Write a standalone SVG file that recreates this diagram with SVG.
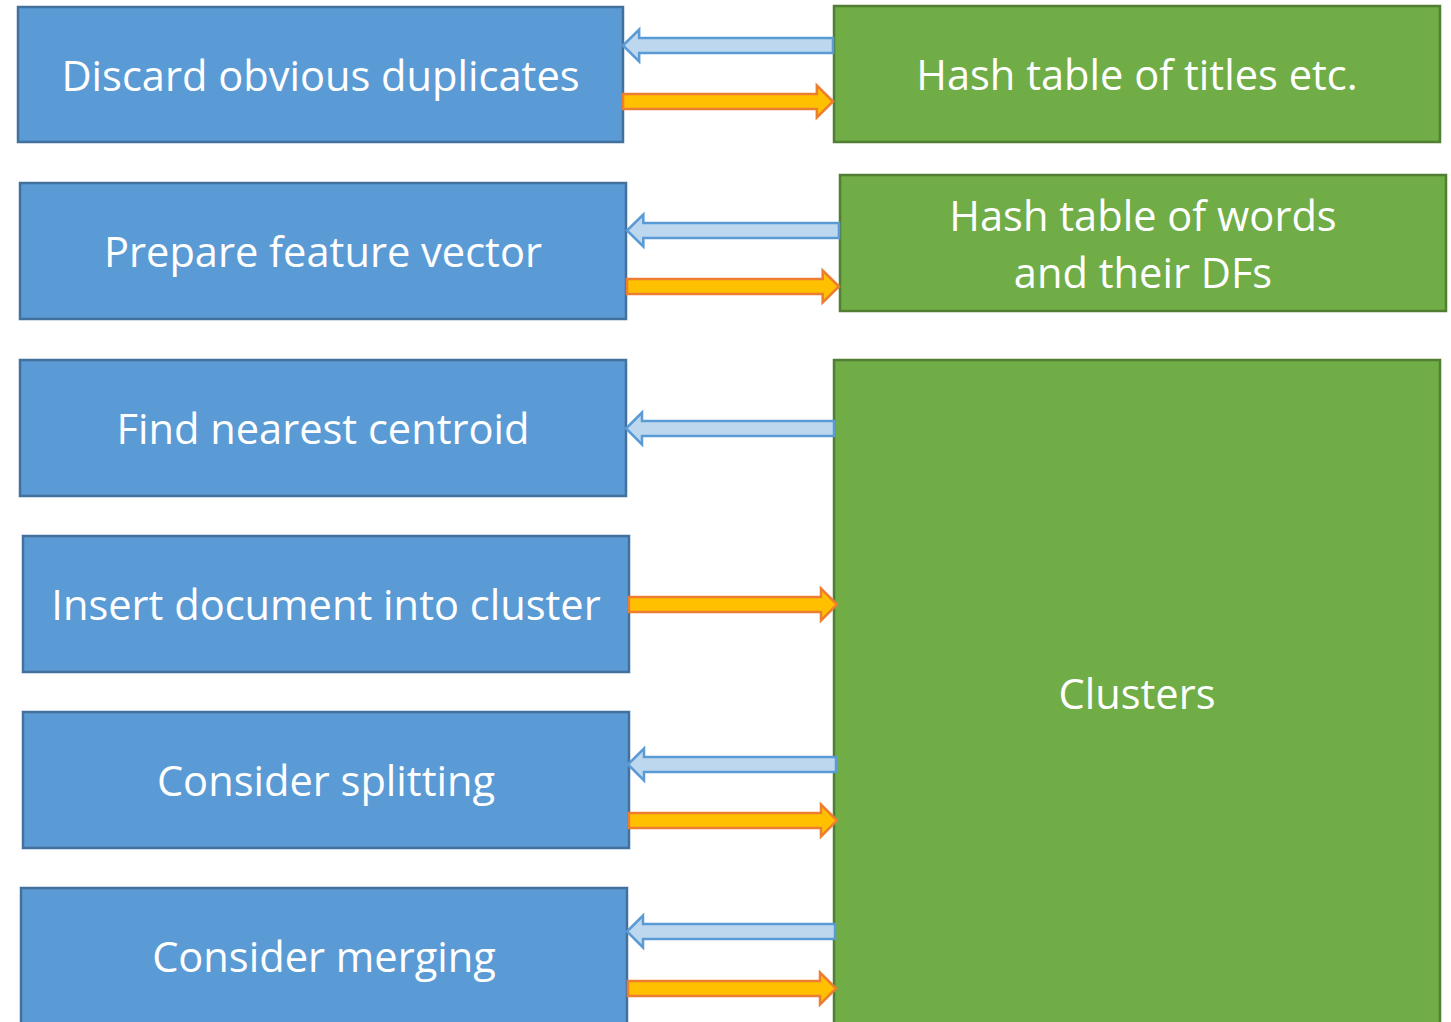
<svg xmlns="http://www.w3.org/2000/svg" width="1451" height="1022" viewBox="0 0 1451 1022">
  <style>
    .step { fill: #5B9BD5; stroke: #41719C; stroke-width: 2.5; }
    .store { fill: #70AD47; stroke: #507E32; stroke-width: 2.5; }
    .label { fill: #FFFFFF; font-family: "Open Sans", "Noto Sans", "Liberation Sans", sans-serif; font-size: 41.6px; text-anchor: middle; }
    .read { fill: #BDD7EE; stroke: #5B9BD5; stroke-width: 2.5; stroke-linejoin: miter; }
    .write { fill: #FFC000; stroke: #ED7D31; stroke-width: 2.5; stroke-linejoin: miter; }
  </style>
  <defs>
    <!-- block arrow pointing left, tip at origin, length 208 -->
    <path id="arrow-left" d="M0,0 L16,-16 L16,-7.5 L208,-7.5 L208,7.5 L16,7.5 L16,16 Z"/>
    <!-- block arrow pointing right, tip at origin, length 208 -->
    <path id="arrow-right" d="M0,0 L-16,-16 L-16,-7.5 L-208,-7.5 L-208,7.5 L-16,7.5 L-16,16 Z"/>
  </defs>
  <rect width="1451" height="1022" fill="#FFFFFF"/>

  <!-- processing steps -->
  <g id="discard">
    <rect class="step" x="18" y="7" width="605" height="135"/>
    <text class="label" x="320.5" y="91">Discard obvious duplicates</text>
  </g>
  <g id="prepare">
    <rect class="step" x="20" y="183" width="606" height="136"/>
    <text class="label" x="323" y="267">Prepare feature vector</text>
  </g>
  <g id="nearest">
    <rect class="step" x="20" y="360" width="606" height="136"/>
    <text class="label" x="323" y="444">Find nearest centroid</text>
  </g>
  <g id="insert">
    <rect class="step" x="23" y="536" width="606" height="136"/>
    <text class="label" x="326" y="620">Insert document into cluster</text>
  </g>
  <g id="split">
    <rect class="step" x="23" y="712" width="606" height="136"/>
    <text class="label" x="326" y="796">Consider splitting</text>
  </g>
  <g id="merge">
    <rect class="step" x="21" y="888" width="606" height="140"/>
    <text class="label" x="324" y="972">Consider merging</text>
  </g>

  <!-- data stores -->
  <g id="titles">
    <rect class="store" x="834" y="6" width="606" height="136"/>
    <text class="label" x="1137" y="90">Hash table of titles etc.</text>
  </g>
  <g id="words">
    <rect class="store" x="840" y="175" width="606" height="136"/>
    <text class="label" x="1143" y="231">Hash table of words</text>
    <text class="label" x="1143" y="288">and their DFs</text>
  </g>
  <g id="clusters">
    <rect class="store" x="834" y="360" width="606" height="670"/>
    <text class="label" x="1137" y="709">Clusters</text>
  </g>

  <!-- connectors -->
  <g id="connectors">
    <use href="#arrow-left" class="read" transform="translate(623,45.5) scale(1.0096,1)"/>
    <use href="#arrow-right" class="write" transform="translate(833,101.5) scale(1.0096,1)"/>
    <use href="#arrow-left" class="read" transform="translate(627,230.5) scale(1.0192,1)"/>
    <use href="#arrow-right" class="write" transform="translate(839,286.5) scale(1.0192,1)"/>
    <use href="#arrow-left" class="read" transform="translate(626,428.5)"/>
    <use href="#arrow-right" class="write" transform="translate(837,604.5)"/>
    <use href="#arrow-left" class="read" transform="translate(628,764.5)"/>
    <use href="#arrow-right" class="write" transform="translate(837,820.5)"/>
    <use href="#arrow-left" class="read" transform="translate(627,931.5)"/>
    <use href="#arrow-right" class="write" transform="translate(836,988.5)"/>
  </g>
</svg>
